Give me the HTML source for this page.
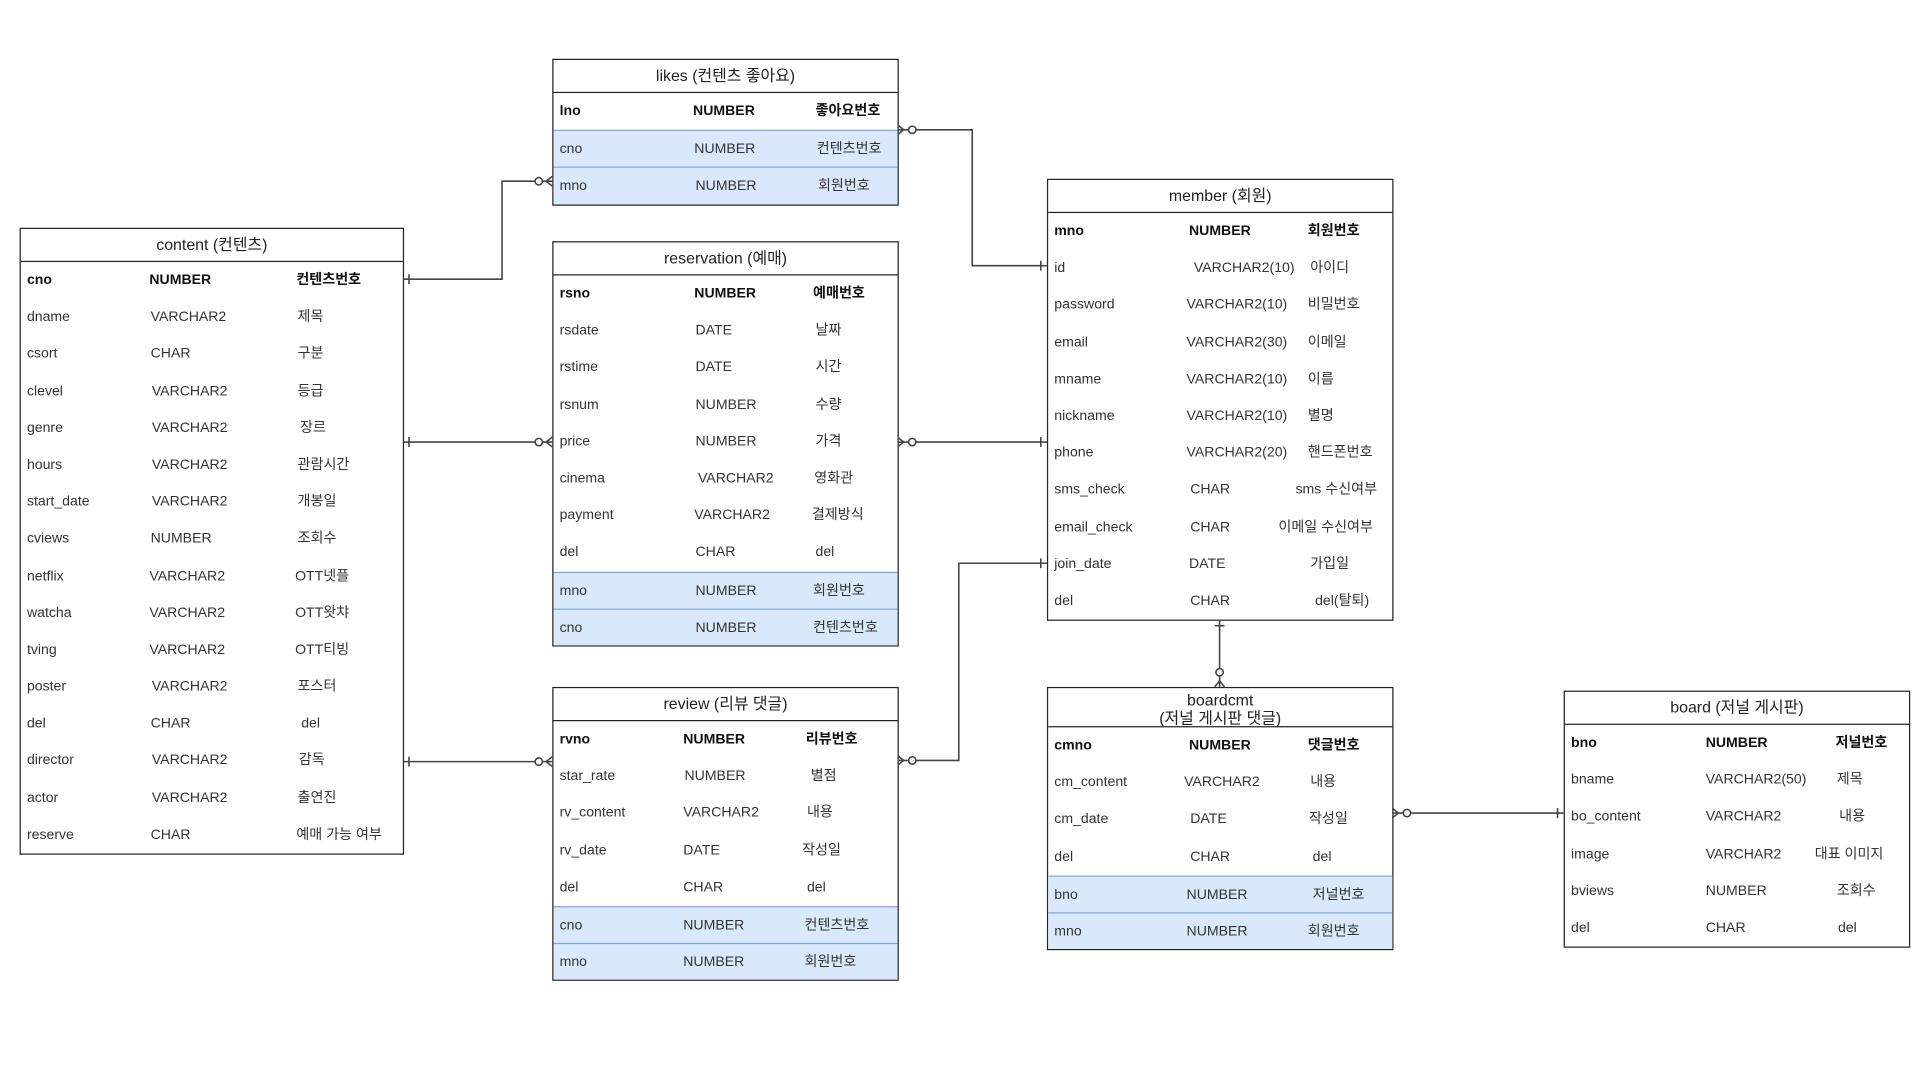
<!DOCTYPE html>
<html><head><meta charset="utf-8">
<style>
html,body{margin:0;padding:0;background:#fff;width:1920px;height:1080px;overflow:hidden}
#c{position:absolute;left:0;top:0;width:1568px;height:882px;transform:scale(1.22449);transform-origin:0 0;font-family:"Liberation Sans","Noto Sans CJK KR",sans-serif;color:#333}
.t{position:absolute;border:1.3px solid #222;background:#fff;box-sizing:border-box}
.h{height:26px;line-height:26px;text-align:center;font-size:13px;border-bottom:1.3px solid #222;color:#222}
.r{position:relative;height:30.2px;font-size:11.5px;line-height:30.2px}
.r span{position:absolute;top:0;white-space:nowrap}
.r.k{font-weight:bold;color:#111}
.r.f{background:#dae8fc;border-top:1px solid #7ea6e0;box-sizing:border-box}
.a{left:5px}
svg{position:absolute;left:0;top:0}
</style></head><body><div id="c">
<svg width="1568" height="882" viewBox="0 0 1568 882" fill="none" stroke="#444" stroke-width="1.3">
<path d="M329 228H410V148H451"/>
<path d="M334 224v8"/>
<path d="M446 148L451 144M446 148L451 152"/><circle cx="440" cy="148" r="3" fill="#fff"/>
<path d="M733 106H794V217H855"/>
<path d="M850 213v8"/>
<path d="M738 106L733 102M738 106L733 110"/><circle cx="745" cy="106" r="3" fill="#fff"/>
<path d="M329 361H451"/><path d="M334 357v8"/>
<path d="M446 361L451 357M446 361L451 365"/><circle cx="440" cy="361" r="3" fill="#fff"/>
<path d="M733 361H855"/><path d="M850 357v8"/>
<path d="M738 361L733 357M738 361L733 365"/><circle cx="745" cy="361" r="3" fill="#fff"/>
<path d="M329 622H451"/><path d="M334 618v8"/>
<path d="M446 622L451 618M446 622L451 626"/><circle cx="440" cy="622" r="3" fill="#fff"/>
<path d="M733 621H783V460H855"/><path d="M850 456v8"/>
<path d="M738 621L733 617M738 621L733 625"/><circle cx="745" cy="621" r="3" fill="#fff"/>
<path d="M996 505V561"/><path d="M992 511h8"/>
<path d="M996 556L992 561M996 556L1000 561"/><circle cx="996" cy="549" r="3" fill="#fff"/>
<path d="M1137 664H1277"/><path d="M1272 660v8"/>
<path d="M1142 664L1137 660M1142 664L1137 668"/><circle cx="1149" cy="664" r="3" fill="#fff"/>
</svg>

<div class="t" style="left:451px;top:48px;width:283px">
<div class="h">likes (컨텐츠 좋아요)</div>
<div class="r k"><span class="a">lno</span><span style="left:114px">NUMBER</span><span style="left:214px">좋아요번호</span></div>
<div class="r f"><span class="a">cno</span><span style="left:115px">NUMBER</span><span style="left:215px">컨텐츠번호</span></div>
<div class="r f"><span class="a">mno</span><span style="left:116px">NUMBER</span><span style="left:216px">회원번호</span></div>
</div>

<div class="t" style="left:16px;top:186px;width:314px">
<div class="h">content (컨텐츠)</div>
<div class="r k"><span class="a">cno</span><span style="left:105px">NUMBER</span><span style="left:225px">컨텐츠번호</span></div>
<div class="r"><span class="a">dname</span><span style="left:106px">VARCHAR2</span><span style="left:226px">제목</span></div>
<div class="r"><span class="a">csort</span><span style="left:106px">CHAR</span><span style="left:226px">구분</span></div>
<div class="r"><span class="a">clevel</span><span style="left:107px">VARCHAR2</span><span style="left:226px">등급</span></div>
<div class="r"><span class="a">genre</span><span style="left:107px">VARCHAR2</span><span style="left:228px">장르</span></div>
<div class="r"><span class="a">hours</span><span style="left:107px">VARCHAR2</span><span style="left:226px">관람시간</span></div>
<div class="r"><span class="a">start_date</span><span style="left:107px">VARCHAR2</span><span style="left:226px">개봉일</span></div>
<div class="r"><span class="a">cviews</span><span style="left:106px">NUMBER</span><span style="left:226px">조회수</span></div>
<div class="r"><span class="a">netflix</span><span style="left:105px">VARCHAR2</span><span style="left:224px">OTT넷플</span></div>
<div class="r"><span class="a">watcha</span><span style="left:105px">VARCHAR2</span><span style="left:224px">OTT왓챠</span></div>
<div class="r"><span class="a">tving</span><span style="left:105px">VARCHAR2</span><span style="left:224px">OTT티빙</span></div>
<div class="r"><span class="a">poster</span><span style="left:107px">VARCHAR2</span><span style="left:226px">포스터</span></div>
<div class="r"><span class="a">del</span><span style="left:106px">CHAR</span><span style="left:229px">del</span></div>
<div class="r"><span class="a">director</span><span style="left:107px">VARCHAR2</span><span style="left:227px">감독</span></div>
<div class="r"><span class="a">actor</span><span style="left:107px">VARCHAR2</span><span style="left:226px">출연진</span></div>
<div class="r"><span class="a">reserve</span><span style="left:106px">CHAR</span><span style="left:225px">예매 가능 여부</span></div>
</div>

<div class="t" style="left:451px;top:197px;width:283px">
<div class="h">reservation (예매)</div>
<div class="r k"><span class="a">rsno</span><span style="left:115px">NUMBER</span><span style="left:212px">예매번호</span></div>
<div class="r"><span class="a">rsdate</span><span style="left:116px">DATE</span><span style="left:214px">날짜</span></div>
<div class="r"><span class="a">rstime</span><span style="left:116px">DATE</span><span style="left:214px">시간</span></div>
<div class="r"><span class="a">rsnum</span><span style="left:116px">NUMBER</span><span style="left:214px">수량</span></div>
<div class="r"><span class="a">price</span><span style="left:116px">NUMBER</span><span style="left:214px">가격</span></div>
<div class="r"><span class="a">cinema</span><span style="left:118px">VARCHAR2</span><span style="left:213px">영화관</span></div>
<div class="r"><span class="a">payment</span><span style="left:115px">VARCHAR2</span><span style="left:211px">결제방식</span></div>
<div class="r"><span class="a">del</span><span style="left:116px">CHAR</span><span style="left:214px">del</span></div>
<div class="r f"><span class="a">mno</span><span style="left:116px">NUMBER</span><span style="left:212px">회원번호</span></div>
<div class="r f"><span class="a">cno</span><span style="left:116px">NUMBER</span><span style="left:212px">컨텐츠번호</span></div>
</div>

<div class="t" style="left:451px;top:561px;width:283px">
<div class="h">review (리뷰 댓글)</div>
<div class="r k"><span class="a">rvno</span><span style="left:106px">NUMBER</span><span style="left:206px">리뷰번호</span></div>
<div class="r"><span class="a">star_rate</span><span style="left:107px">NUMBER</span><span style="left:210px">별점</span></div>
<div class="r"><span class="a">rv_content</span><span style="left:106px">VARCHAR2</span><span style="left:207px">내용</span></div>
<div class="r"><span class="a">rv_date</span><span style="left:106px">DATE</span><span style="left:203px">작성일</span></div>
<div class="r"><span class="a">del</span><span style="left:106px">CHAR</span><span style="left:207px">del</span></div>
<div class="r f"><span class="a">cno</span><span style="left:106px">NUMBER</span><span style="left:205px">컨텐츠번호</span></div>
<div class="r f"><span class="a">mno</span><span style="left:106px">NUMBER</span><span style="left:205px">회원번호</span></div>
</div>

<div class="t" style="left:855px;top:146px;width:283px">
<div class="h">member (회원)</div>
<div class="r k"><span class="a">mno</span><span style="left:115px">NUMBER</span><span style="left:212px">회원번호</span></div>
<div class="r"><span class="a">id</span><span style="left:119px">VARCHAR2(10)</span><span style="left:214px">아이디</span></div>
<div class="r"><span class="a">password</span><span style="left:113px">VARCHAR2(10)</span><span style="left:212px">비밀번호</span></div>
<div class="r"><span class="a">email</span><span style="left:113px">VARCHAR2(30)</span><span style="left:212px">이메일</span></div>
<div class="r"><span class="a">mname</span><span style="left:113px">VARCHAR2(10)</span><span style="left:212px">이름</span></div>
<div class="r"><span class="a">nickname</span><span style="left:113px">VARCHAR2(10)</span><span style="left:212px">별명</span></div>
<div class="r"><span class="a">phone</span><span style="left:113px">VARCHAR2(20)</span><span style="left:212px">핸드폰번호</span></div>
<div class="r"><span class="a">sms_check</span><span style="left:116px">CHAR</span><span style="left:202px">sms 수신여부</span></div>
<div class="r"><span class="a">email_check</span><span style="left:116px">CHAR</span><span style="left:188px">이메일 수신여부</span></div>
<div class="r"><span class="a">join_date</span><span style="left:115px">DATE</span><span style="left:214px">가입일</span></div>
<div class="r"><span class="a">del</span><span style="left:116px">CHAR</span><span style="left:218px">del(탈퇴)</span></div>
</div>

<div class="t" style="left:855px;top:561px;width:283px">
<div class="h" style="height:32px;line-height:15px;padding-top:2px;box-sizing:border-box">boardcmt<br>(저널 게시판 댓글)</div>
<div class="r k"><span class="a">cmno</span><span style="left:115px">NUMBER</span><span style="left:212px">댓글번호</span></div>
<div class="r"><span class="a">cm_content</span><span style="left:111px">VARCHAR2</span><span style="left:214px">내용</span></div>
<div class="r"><span class="a">cm_date</span><span style="left:116px">DATE</span><span style="left:213px">작성일</span></div>
<div class="r"><span class="a">del</span><span style="left:116px">CHAR</span><span style="left:216px">del</span></div>
<div class="r f"><span class="a">bno</span><span style="left:113px">NUMBER</span><span style="left:216px">저널번호</span></div>
<div class="r f"><span class="a">mno</span><span style="left:113px">NUMBER</span><span style="left:212px">회원번호</span></div>
</div>

<div class="t" style="left:1277px;top:564px;width:283px">
<div class="h">board (저널 게시판)</div>
<div class="r k"><span class="a">bno</span><span style="left:115px">NUMBER</span><span style="left:221px">저널번호</span></div>
<div class="r"><span class="a">bname</span><span style="left:115px">VARCHAR2(50)</span><span style="left:222px">제목</span></div>
<div class="r"><span class="a">bo_content</span><span style="left:115px">VARCHAR2</span><span style="left:224px">내용</span></div>
<div class="r"><span class="a">image</span><span style="left:115px">VARCHAR2</span><span style="left:204px">대표 이미지</span></div>
<div class="r"><span class="a">bviews</span><span style="left:115px">NUMBER</span><span style="left:222px">조회수</span></div>
<div class="r"><span class="a">del</span><span style="left:115px">CHAR</span><span style="left:223px">del</span></div>
</div>
</div></body></html>
